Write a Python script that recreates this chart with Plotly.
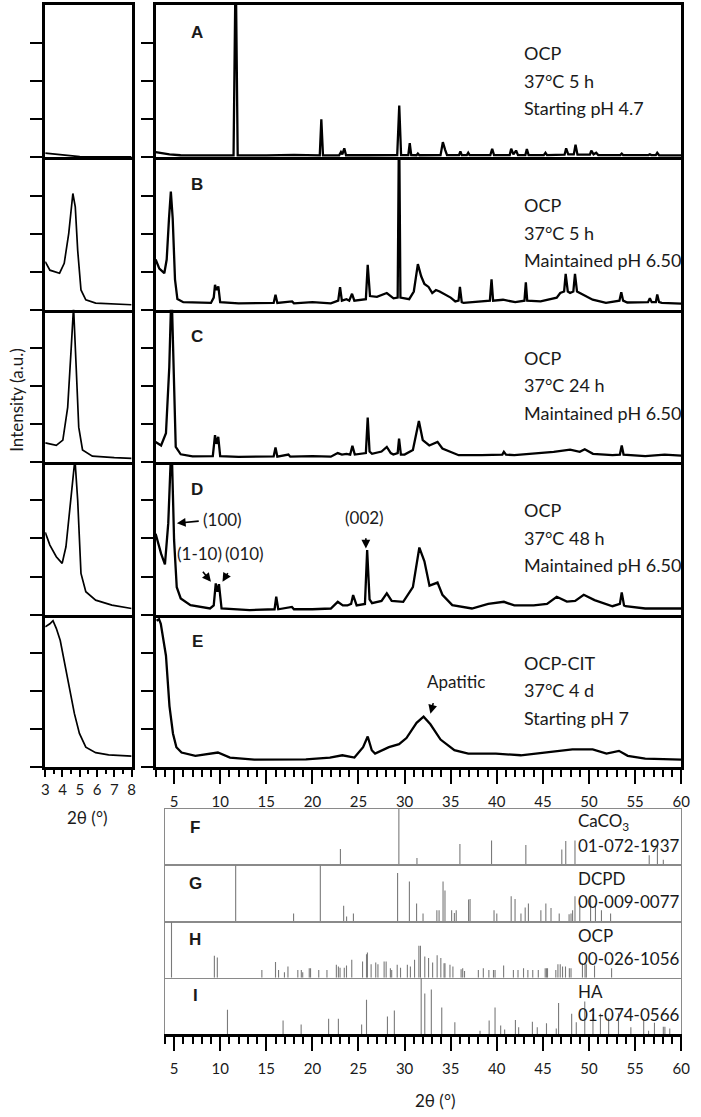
import plotly.graph_objects as go

W, H = 701, 1117

# ---------------- data ----------------
# Left column (low-angle zoom), x in 2theta degrees, y relative intensity (0-1 of panel)
left_A_x = [3.0, 3.5, 4.2, 5.0, 5.5, 6.5, 8.0]
left_A_y = [0.028, 0.022, 0.012, 0.005, 0.003, 0.003, 0.003]

left_B_x = [3.0, 3.27, 3.83, 4.1, 4.36, 4.6, 4.74, 4.88, 5.07, 5.35, 5.92, 7.0, 8.0]
left_B_y = [0.316, 0.26, 0.24, 0.305, 0.50, 0.763, 0.675, 0.39, 0.13, 0.065, 0.044, 0.036, 0.033]

left_C_x = [3.0, 3.64, 4.02, 4.3, 4.5, 4.64, 4.79, 4.94, 5.16, 5.73, 7.0, 8.0]
left_C_y = [0.127, 0.11, 0.145, 0.36, 0.74, 1.02, 0.63, 0.23, 0.08, 0.04, 0.03, 0.025]

left_D_x = [3.0, 3.27, 3.64, 3.98, 4.2, 4.4, 4.64, 4.72, 4.88, 5.07, 5.35, 5.92, 6.86, 8.0]
left_D_y = [0.54, 0.456, 0.38, 0.336, 0.445, 0.686, 0.97, 1.02, 0.75, 0.27, 0.15, 0.095, 0.062, 0.04]

left_E_x = [3.0, 3.27, 3.45, 3.64, 3.87, 4.12, 4.4, 4.69, 4.98, 5.35, 5.92, 6.67, 8.0]
left_E_y = [0.92, 0.94, 0.96, 0.91, 0.83, 0.68, 0.53, 0.35, 0.22, 0.13, 0.094, 0.079, 0.072]

# Main column, full 2theta range
main_A_x = [3.0, 3.5, 4.5, 5.7, 8.0, 11.45, 11.68, 11.9, 15.0, 18.0, 20.8, 20.97, 21.15, 22.9,
            23.1, 23.25, 23.46, 23.65, 26.0, 29.2, 29.42, 29.62, 30.4, 30.56, 30.72, 31.3, 31.44,
            31.6, 33.9, 34.15, 34.4, 34.6, 35.9, 36.05, 36.2, 36.75, 36.9, 37.05, 39.3, 39.5,
            39.7, 41.4, 41.56, 41.8, 42.09, 42.3, 43.1, 43.26, 43.45, 45.1, 45.28, 45.45, 47.35,
            47.52, 47.75, 48.35, 48.54, 48.75, 50.1, 50.25, 50.5, 50.78, 51.0, 53.4, 53.55, 53.7,
            56.45, 56.6, 56.75, 57.25, 57.4, 57.6, 60.0]
main_A_y = [0.035, 0.03, 0.02, 0.014, 0.013, 0.013, 1.3, 0.013, 0.013, 0.016, 0.013, 0.25, 0.013, 0.014,
            0.035, 0.02, 0.06, 0.014, 0.014, 0.015, 0.34, 0.015, 0.015, 0.094, 0.015, 0.014, 0.025,
            0.014, 0.015, 0.10, 0.05, 0.015, 0.015, 0.04, 0.015, 0.015, 0.03, 0.015, 0.015, 0.057,
            0.015, 0.015, 0.057, 0.02, 0.045, 0.015, 0.015, 0.055, 0.015, 0.015, 0.03, 0.015, 0.018,
            0.06, 0.02, 0.02, 0.083, 0.018, 0.018, 0.045, 0.02, 0.03, 0.015, 0.015, 0.025, 0.015,
            0.015, 0.02, 0.015, 0.015, 0.03, 0.014, 0.013]

main_B_x = [3.0, 3.4, 3.94, 4.2, 4.45, 4.65, 4.85, 5.1, 5.36, 6.0, 9.0, 9.3, 9.44, 9.6, 9.8, 10.0,
            12.0, 15.8, 16.0, 16.2, 17.8, 18.0, 20.0, 22.0, 22.8, 23.0, 23.2, 23.7, 24.0, 24.3,
            24.55, 25.8, 26.0, 26.25, 27.0, 28.07, 28.8, 29.25, 29.4, 29.55, 30.5, 31.0, 31.44,
            31.8, 32.15, 32.6, 33.0, 33.4, 33.8, 34.46, 35.0, 35.5, 35.85, 36.0, 36.2, 36.4, 38.4,
            39.25, 39.43, 39.6, 40.67, 42.0, 43.0, 43.15, 43.3, 44.75, 46.5, 46.88, 47.3, 47.47,
            47.7, 47.95, 48.3, 48.48, 48.7, 49.0, 50.4, 51.84, 53.3, 53.5, 53.7, 54.15, 56.4, 56.6,
            56.8, 57.25, 57.4, 57.6, 57.9, 60.0]
main_B_y = [0.33, 0.27, 0.24, 0.33, 0.6, 0.776, 0.6, 0.2, 0.07, 0.05, 0.045, 0.08, 0.164, 0.13, 0.153, 0.05,
            0.042, 0.045, 0.098, 0.045, 0.055, 0.042, 0.05, 0.042, 0.06, 0.149, 0.06, 0.07, 0.06, 0.105,
            0.06, 0.07, 0.295, 0.09, 0.085, 0.11, 0.075, 0.08, 1.3, 0.08, 0.07, 0.12, 0.30,
            0.22, 0.17, 0.15, 0.11, 0.13, 0.12, 0.10, 0.08, 0.055, 0.06, 0.15, 0.05, 0.045, 0.055,
            0.06, 0.20, 0.06, 0.066, 0.05, 0.06, 0.18, 0.06, 0.055, 0.08, 0.11, 0.12, 0.236,
            0.12, 0.11, 0.12, 0.236, 0.12, 0.11, 0.066, 0.045, 0.06, 0.116, 0.06, 0.048, 0.05, 0.075,
            0.05, 0.05, 0.10, 0.05, 0.045, 0.04]

main_C_x = [3.0, 3.59, 4.12, 4.48, 4.72, 4.94, 5.18, 5.72, 7.0, 9.2, 9.44, 9.6, 9.79, 10.0, 12.0,
            15.8, 16.0, 16.2, 17.4, 17.6, 20.0, 22.0, 22.75, 23.2, 23.7, 24.1, 24.34, 24.6, 25.8,
            26.0, 26.2, 26.47, 27.5, 28.07, 28.5, 28.78, 29.25, 29.4, 29.6, 30.0, 30.9, 31.55,
            31.97, 32.68, 33.57, 34.1, 35.17, 35.87, 38.36, 40.6, 40.77, 41.0, 41.9, 43.7, 46.17,
            47.95, 49.0, 49.54, 50.43, 52.55, 53.35, 53.55, 53.75, 56.1, 58.2, 60.0]
main_C_y = [0.133, 0.11, 0.19, 0.625, 1.15, 0.54, 0.10, 0.052, 0.038, 0.04, 0.177, 0.12, 0.166, 0.04, 0.035,
            0.038, 0.096, 0.036, 0.05, 0.036, 0.04, 0.036, 0.06, 0.05, 0.055, 0.05, 0.107, 0.05, 0.06,
            0.293, 0.07, 0.055, 0.07, 0.10, 0.06, 0.05, 0.06, 0.155, 0.05, 0.05, 0.08, 0.27,
            0.145, 0.11, 0.133, 0.09, 0.063, 0.046, 0.046, 0.05, 0.068, 0.05, 0.046, 0.055, 0.068,
            0.083, 0.068, 0.085, 0.055, 0.046, 0.05, 0.11, 0.05, 0.04, 0.05, 0.043]

main_D_x = [3.0, 3.59, 4.01, 4.37, 4.72, 5.0, 5.29, 5.72, 6.78, 8.9, 9.3, 9.52, 9.7, 9.87, 10.15,
            13.2, 15.9, 16.08, 16.3, 17.78, 18.0, 20.0, 22.0, 22.75, 23.3, 23.8, 24.2, 24.42, 24.8,
            25.7, 25.94, 26.2, 26.47, 27.5, 28.07, 28.6, 29.85, 30.9, 31.6, 32.15, 32.7, 33.57,
            34.1, 35.17, 37.3, 39.07, 40.77, 41.9, 44.0, 45.45, 46.5, 47.6, 48.5, 49.43, 50.6,
            52.55, 53.35, 53.55, 53.8, 53.97, 56.1, 59.65, 60.0]
main_D_y = [0.53, 0.40, 0.33, 0.60, 1.15, 0.49, 0.18, 0.106, 0.062, 0.04, 0.06, 0.205, 0.15, 0.20, 0.04,
            0.03, 0.035, 0.117, 0.035, 0.05, 0.035, 0.035, 0.04, 0.084, 0.06, 0.06, 0.07, 0.128, 0.06,
            0.07, 0.423, 0.10, 0.075, 0.09, 0.14, 0.09, 0.084, 0.18, 0.44, 0.35, 0.19, 0.21,
            0.13, 0.062, 0.04, 0.07, 0.084, 0.06, 0.06, 0.07, 0.117, 0.085, 0.09, 0.13, 0.095,
            0.055, 0.07, 0.146, 0.06, 0.055, 0.04, 0.04, 0.04]

main_E_x = [3.1, 3.37, 3.56, 4.12, 4.5, 4.88, 5.25, 5.81, 7.31, 9.75, 11.06, 13.7, 19.3, 21.9,
            23.25, 24.56, 25.5, 26.0, 26.44, 26.8, 28.3, 29.4, 30.2, 31.3, 32.06, 32.8, 33.9,
            35.4, 36.9, 39.9, 42.6, 45.6, 48.2, 50.4, 51.9, 53.25, 54.2, 56.1, 60.0]
main_E_y = [0.96, 0.97, 0.94, 0.73, 0.40, 0.22, 0.13, 0.095, 0.073, 0.095, 0.062, 0.049, 0.05, 0.062,
            0.077, 0.062, 0.13, 0.20, 0.11, 0.088, 0.13, 0.15, 0.19, 0.29, 0.33, 0.28, 0.18,
            0.11, 0.088, 0.088, 0.077, 0.095, 0.115, 0.115, 0.088, 0.106, 0.073, 0.055, 0.049]

# Reference (ICDD) stick patterns: positions and relative heights
ref_F_pos = [23.04, 29.38, 31.34, 36.0, 39.43, 43.15, 47.05, 47.48, 48.48, 56.53, 57.42, 58.06]
ref_F_int = [0.29, 1.0, 0.13, 0.38, 0.44, 0.36, 0.28, 0.43, 0.44, 0.18, 0.35, 0.10]

ref_G_pos = [11.68, 17.96, 20.86, 23.39, 23.71, 24.45, 29.24, 30.52, 31.3, 32.0, 33.5, 33.74,
             34.17, 34.38, 35.1, 35.4, 35.6, 36.94, 37.1, 39.7, 40.0, 41.56, 41.98, 42.62, 43.08,
             43.43, 44.78, 45.32, 45.88, 46.77, 47.84, 48.05, 48.22, 48.48, 49.0, 50.17, 50.7,
             51.35, 52.34]
ref_G_int = [1.0, 0.14, 1.0, 0.28, 0.09, 0.14, 0.86, 0.71, 0.32, 0.14, 0.2, 0.2,
             0.71, 0.55, 0.2, 0.15, 0.2, 0.39, 0.4, 0.2, 0.14, 0.45, 0.40, 0.14, 0.25,
             0.32, 0.2, 0.32, 0.24, 0.14, 0.13, 0.14, 0.2, 0.45, 0.28, 0.45, 0.32,
             0.2, 0.14]

ref_H_pos = [4.72, 9.37, 9.69, 14.52, 16.0, 16.33, 16.97, 17.35, 18.42, 18.8, 18.95, 19.66, 19.8,
             20.69, 21.58, 22.6, 22.82, 23.0, 23.46, 23.7, 24.27, 25.44, 25.87, 25.97, 26.37, 26.87,
             27.11, 27.78, 28.0, 28.46, 28.6, 29.2, 29.56, 30.3, 30.63, 31.08, 31.55, 31.72, 32.19,
             32.6, 33.04, 33.53, 33.93, 34.28, 34.38, 34.92, 35.24, 36.13, 36.3, 36.5, 38.0, 38.54,
             39.14, 39.64, 39.81, 40.74, 41.8, 42.3, 42.9, 43.37, 43.9, 44.5, 45.25, 45.4, 45.5,
             46.4, 46.63, 46.88, 47.13, 47.45, 47.87, 48.05, 49.29, 49.57, 49.71, 50.6, 52.45]
ref_H_int = [1.0, 0.39, 0.36, 0.14, 0.28, 0.14, 0.1, 0.2, 0.14, 0.14, 0.1, 0.17, 0.17,
             0.14, 0.14, 0.23, 0.2, 0.18, 0.18, 0.22, 0.32, 0.29, 0.42, 0.45, 0.24, 0.27,
             0.24, 0.29, 0.29, 0.17, 0.14, 0.23, 0.18, 0.23, 0.2, 0.32, 0.57, 0.57, 0.38,
             0.35, 0.27, 0.40, 0.35, 0.26, 0.26, 0.23, 0.2, 0.15, 0.17, 0.12, 0.14, 0.17,
             0.14, 0.14, 0.14, 0.22, 0.14, 0.14, 0.17, 0.14, 0.14, 0.14, 0.17, 0.17, 0.17,
             0.14, 0.24, 0.24, 0.2, 0.2, 0.17, 0.17, 0.26, 0.26, 0.24, 0.22, 0.17]

ref_I_pos = [10.79, 16.82, 18.78, 21.76, 22.82, 25.34, 25.87, 28.14, 28.89, 31.8, 32.19, 32.9,
             34.03, 35.45, 38.18, 39.17, 39.81, 40.42, 40.85, 42.02, 42.37, 43.86, 44.39, 45.39,
             46.45, 46.7, 48.12, 48.62, 49.54, 50.43, 51.24, 52.13, 53.2, 54.54, 55.93, 56.46,
             57.1, 58.06, 58.23, 58.76]
ref_I_int = [0.43, 0.24, 0.17, 0.27, 0.27, 0.17, 0.61, 0.31, 0.42, 1.0, 0.72, 0.79,
             0.47, 0.21, 0.06, 0.24, 0.47, 0.15, 0.08, 0.25, 0.12, 0.22, 0.12, 0.19,
             0.1, 0.55, 0.36, 0.21, 0.58, 0.36, 0.36, 0.28, 0.37, 0.12, 0.26, 0.06,
             0.2, 0.13, 0.13, 0.1]

panel_letters = ["A", "B", "C", "D", "E"]
sample_labels = [
    ["OCP", "37°C 5 h", "Starting pH 4.7"],
    ["OCP", "37°C 5 h", "Maintained pH 6.50"],
    ["OCP", "37°C 24 h", "Maintained pH 6.50"],
    ["OCP", "37°C 48 h", "Maintained pH 6.50"],
    ["OCP-CIT", "37°C 4 d", "Starting pH 7"],
]
ref_letters = ["F", "G", "H", "I"]
ref_labels = [
    ["CaCO<sub>3</sub>", "01-072-1937"],
    ["DCPD", "00-009-0077"],
    ["OCP", "00-026-1056"],
    ["HA", "01-074-0566"],
]

left_series = [(left_A_x, left_A_y), (left_B_x, left_B_y), (left_C_x, left_C_y),
               (left_D_x, left_D_y), (left_E_x, left_E_y)]
main_series = [(main_A_x, main_A_y), (main_B_x, main_B_y), (main_C_x, main_C_y),
               (main_D_x, main_D_y), (main_E_x, main_E_y)]
ref_series = [(ref_F_pos, ref_F_int), (ref_G_pos, ref_G_int),
              (ref_H_pos, ref_H_int), (ref_I_pos, ref_I_int)]

# ---------------- layout geometry (pixels) ----------------
ROW_TOPS = [5, 157.4, 309.8, 462.2, 614.6]
ROW_H = 152.4
STICK_TOPS = [809, 865.25, 921.5, 977.75]
STICK_H = 56.25
LEFT_X = (42, 130)
MAIN_X = (154.5, 690)
STICK_X = (163.9, 690)

FONT = "Lato"
TXT = "#1a1a1a"
STANDOFF = 5


def fx(px):
    return px / W


def fy(py):
    return 1 - py / H


fig = go.Figure()
layout = dict(width=W, height=H, margin=dict(l=0, r=0, t=0, b=0),
              paper_bgcolor="white", plot_bgcolor="rgba(0,0,0,0)", showlegend=False)


def ax_name(kind, k):
    return f"{kind}axis" if k == 1 else f"{kind}axis{k}"


def ref(kind, k):
    return kind if k == 1 else f"{kind}{k}"


BASE = dict(showline=True, linecolor="black", linewidth=2.5,
            showgrid=False, zeroline=False, fixedrange=True)

# Left and main sample panels
for col, (xd, xr, series) in enumerate([(LEFT_X, [3, 8], left_series),
                                        (MAIN_X, [3, 60], main_series)]):
    for i in range(5):
        k = 1 + col * 5 + i
        top = ROW_TOPS[i]
        bot = top + ROW_H
        # only the top panel mirrors its x line to the top; lower panels share the line above
        xa = dict(BASE, mirror=(i == 0), domain=[fx(xd[0]), fx(xd[1])], range=xr,
                  anchor=ref("y", k))
        if i == 4:
            if col == 0:
                xa.update(ticks="outside", tickmode="linear", tick0=3, dtick=1,
                          ticklen=7, tickwidth=2, tickcolor="black",
                          showticklabels=True,
                          tickfont=dict(family=FONT, size=15, color=TXT),
                          minor=dict(ticks="outside", tick0=0, dtick=0.5, ticklen=4,
                                     tickwidth=1.5, tickcolor="black"))
            else:
                xa.update(ticks="outside", tickmode="linear", tick0=0, dtick=5,
                          ticklen=14, tickwidth=2, tickcolor="black",
                          showticklabels=True, ticklabelstandoff=STANDOFF,
                          tickfont=dict(family=FONT, size=15, color=TXT),
                          minor=dict(ticks="outside", tick0=0, dtick=1, ticklen=7,
                                     tickwidth=1.5, tickcolor="black"))
        else:
            xa.update(ticks="", showticklabels=False)
        ya = dict(BASE, mirror=True, domain=[fy(bot), fy(top)], range=[0, 1],
                  anchor=ref("x", k), ticks="outside", tickmode="array",
                  tickvals=[0, 0.25, 0.5, 0.75], ticklen=12, tickwidth=2,
                  tickcolor="black", showticklabels=False)
        layout[ax_name("x", k)] = xa
        layout[ax_name("y", k)] = ya
        sx, sy = series[i]
        fig.add_trace(go.Scatter(x=sx, y=sy, mode="lines",
                                 line=dict(color="black", width=1.7 if col == 0 else 2.3),
                                 xaxis=ref("x", k), yaxis=ref("y", k), hoverinfo="skip"))

# Reference stick panels
for j in range(4):
    k = 11 + j
    top = STICK_TOPS[j]
    bot = top + STICK_H
    xa = dict(domain=[fx(STICK_X[0]), fx(STICK_X[1])], range=[4, 60],
              anchor=ref("y", k), showgrid=False, zeroline=False, fixedrange=True)
    if j < 3:
        xa.update(showline=True, linecolor="#8a8a8a", linewidth=1, mirror=True,
                  ticks="", showticklabels=False)
    else:
        xa.update(showline=True, linecolor="black", linewidth=2.5, mirror=False,
                  ticks="outside", tickmode="linear", tick0=0, dtick=5,
                  ticklen=14, tickwidth=2, tickcolor="black",
                  showticklabels=True, ticklabelstandoff=STANDOFF,
                  tickfont=dict(family=FONT, size=15, color=TXT),
                  minor=dict(ticks="outside", tick0=0, dtick=1, ticklen=7,
                             tickwidth=1.5, tickcolor="black"))
    ya = dict(domain=[fy(bot), fy(top)], range=[0, 1], anchor=ref("x", k),
              showline=True, linecolor="#8a8a8a", linewidth=1, mirror=True,
              ticks="", showticklabels=False, showgrid=False, zeroline=False,
              fixedrange=True)
    layout[ax_name("x", k)] = xa
    layout[ax_name("y", k)] = ya
    pos, inten = ref_series[j]
    xs, ys = [], []
    for p, h in zip(pos, inten):
        xs += [p, p, None]
        ys += [0, h, None]
    fig.add_trace(go.Scatter(x=xs, y=ys, mode="lines",
                             line=dict(color="#7a7a7a", width=1.1),
                             xaxis=ref("x", k), yaxis=ref("y", k), hoverinfo="skip"))

annotations = []


def text(px, py, s, size=17, bold=False, xanchor="center", angle=0, family=FONT):
    annotations.append(dict(
        x=fx(px), y=fy(py), xref="paper", yref="paper", text=(f"<b>{s}</b>" if bold else s),
        showarrow=False, xanchor=xanchor, yanchor="middle", textangle=angle,
        font=dict(family=family, size=size, color=TXT)))


# panel letters + sample labels
for i in range(5):
    top = ROW_TOPS[i]
    text(197, top + 27, panel_letters[i], size=17, bold=True, family="Liberation Sans")
    for n, s in enumerate(sample_labels[i]):
        text(528, top + 48 + n * 27.5, s, size=18, xanchor="left")

for j in range(4):
    top = STICK_TOPS[j]
    text(195, top + 18, ref_letters[j], size=17, bold=True, family="Liberation Sans")
    for n, s in enumerate(ref_labels[j]):
        text(583, top + 13.5 + n * 23, s, size=17, xanchor="left")

# axis titles
text(12, 400, "Intensity (a.u.)", size=17, angle=-90)
text(85, 817, "2θ (°)", size=17)
text(440, 1100, "2θ (°)", size=17)


def arrow(k, hx, hy, tx, ty):
    annotations.append(dict(
        x=hx, y=hy, ax=tx, ay=ty, xref=ref("x", k), yref=ref("y", k),
        axref=ref("x", k), ayref=ref("y", k), text=" ", showarrow=True,
        arrowhead=2, arrowsize=1.1, arrowwidth=1.6, arrowcolor="black"))


def dtext(k, x, y, s, size=17):
    annotations.append(dict(
        x=x, y=y, xref=ref("x", k), yref=ref("y", k), text=s, showarrow=False,
        xanchor="center", yanchor="middle", font=dict(family=FONT, size=size, color=TXT)))


# Panel D peak labels (main D is subplot 9)
dtext(9, 10.2, 0.627, "(100)")
arrow(9, 5.3, 0.60, 8.0, 0.615)
dtext(9, 7.75, 0.40, "(1-10)")
arrow(9, 9.0, 0.215, 7.8, 0.305)
dtext(9, 12.65, 0.40, "(010)")
arrow(9, 10.25, 0.215, 11.15, 0.305)
dtext(9, 25.7, 0.638, "(002)")
arrow(9, 25.8, 0.434, 25.8, 0.567)
# Panel E apatitic label (main E is subplot 10)
dtext(10, 35.6, 0.56, "Apatitic")
arrow(10, 32.8, 0.35, 33.4, 0.485)

layout["annotations"] = annotations
fig.update_layout(**layout)
fig.write_html("out.html")
